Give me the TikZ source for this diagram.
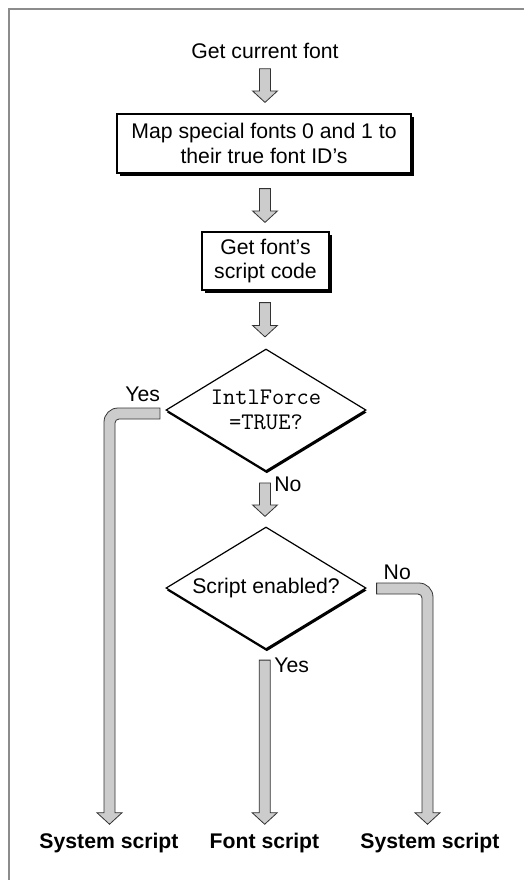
\documentclass[tikz,border=0pt]{standalone}
\usepackage{fontspec}
\setmainfont{Liberation Sans}
\usetikzlibrary{calc,shapes.geometric,shadows}
\newcommand\fsz{\fontsize{10.6}{12.2}\selectfont}
\newcommand\ttsz{\fontsize{11.9}{12.4}\selectfont\ttfamily}
% straight vertical pipe arrow: #1 top centre, #2 tip
\newcommand\vpipe[2]{\path[pipe] let \p1=#1, \p2=#2 in
  (\x1-2.75pt,\y1) -- (\x1+2.75pt,\y1) -- (\x1+2.75pt,\y2+5.75pt) -- (\x1+6.25pt,\y2+5.75pt)
  -- (\x1,\y2) -- (\x1-6.25pt,\y2+5.75pt) -- (\x1-2.75pt,\y2+5.75pt) -- cycle;}
% bent pipe going left then down: #1 start (centre of horizontal end), #2 tip
\newcommand\lpipe[2]{\path[pipe] let \p1=#1, \p2=#2 in
  (\x1,\y1+2.75pt) -- (\x2+4.25pt,\y1+2.75pt)
  .. controls (\x2+0.386pt,\y1+2.75pt) and (\x2-2.75pt,\y1-0.386pt) .. (\x2-2.75pt,\y1-4.25pt)
  -- (\x2-2.75pt,\y2+5.75pt) -- (\x2-6.25pt,\y2+5.75pt) -- (\x2,\y2) -- (\x2+6.25pt,\y2+5.75pt)
  -- (\x2+2.75pt,\y2+5.75pt) -- (\x2+2.75pt,\y1-4.75pt)
  .. controls (\x2+2.75pt,\y1-3.646pt) and (\x2+3.646pt,\y1-2.75pt) .. (\x2+4.75pt,\y1-2.75pt)
  -- (\x1,\y1-2.75pt) -- cycle;}
% bent pipe going right then down
\newcommand\rpipe[2]{\path[pipe] let \p1=#1, \p2=#2 in
  (\x1,\y1+2.75pt) -- (\x2-4.25pt,\y1+2.75pt)
  .. controls (\x2-0.386pt,\y1+2.75pt) and (\x2+2.75pt,\y1-0.386pt) .. (\x2+2.75pt,\y1-4.25pt)
  -- (\x2+2.75pt,\y2+5.75pt) -- (\x2+6.25pt,\y2+5.75pt) -- (\x2,\y2) -- (\x2-6.25pt,\y2+5.75pt)
  -- (\x2-2.75pt,\y2+5.75pt) -- (\x2-2.75pt,\y1-4.75pt)
  .. controls (\x2-2.75pt,\y1-3.646pt) and (\x2-3.646pt,\y1-2.75pt) .. (\x2-4.75pt,\y1-2.75pt)
  -- (\x1,\y1-2.75pt) -- cycle;}
\tikzset{
  pipe/.style={fill=black!20, draw=black!80, line width=0.4pt},
  box/.style={rectangle, draw, fill=white, line width=0.6pt, align=center, inner sep=0pt,
    font=\fsz, general shadow={fill=black, shadow xshift=1.4pt, shadow yshift=-1.4pt}},
  dec/.style={diamond, draw, fill=white, line width=0.6pt, align=center, inner sep=0pt,
    aspect=1.64, minimum width=100pt, minimum height=61pt, font=\fsz,
    general shadow={fill=black, shadow xshift=0.4pt, shadow yshift=-1.2pt}},
  txt/.style={inner sep=0pt, font=\fsz},
  lab/.style={inner sep=0pt, font=\fsz\bfseries, anchor=base},
  frame/.style={draw=black!45, line width=0.8pt}
}
\begin{document}
\begin{tikzpicture}[x=0.5pt, y=-0.5pt]
\useasboundingbox (0,0) rectangle (524,880);
\draw[frame] (9,880) -- (9,9) -- (524,9);

\node[txt] (t0) at (265,51) {Get current font};
\node[box, minimum width=147pt, minimum height=29.5pt] (b1) at (264,143.5)
  {Map special fonts 0 and 1 to\\their true font ID’s};
\node[box, minimum width=63.5pt, minimum height=29pt] (b2) at (265.5,261)
  {Get font’s\\script code};
\node[dec, font=\ttsz] (d1) at (266,410) {IntlForce\\=TRUE?};
\node[dec] (d2) at (266,588) {Script enabled?};

\node[lab] (l1) at (109,848) {System script};
\node[lab] (l2) at (264.5,848) {Font script};
\node[lab] (l3) at (430,848) {System script};

\node[txt, anchor=base east] (y1) at ($(d1.west)+(-5,-9)$) {Yes};
\node[txt, anchor=base west] (n1) at ($(d1.south)+(8,20)$) {No};
\node[txt, anchor=base west] (n2) at ($(d2.east)+(16.7,-9)$) {No};
\node[txt, anchor=base west] (y2) at ($(d2.south)+(8,22.7)$) {Yes};

\vpipe{($(t0.south)+(0,9.5)$)}{($(b1.north)+(0,-11)$)}
\vpipe{($(b1.south)+(1,15)$)}{($(b2.north)+(0,-9)$)}
\vpipe{($(b2.south)+(-0.5,12)$)}{($(d1.north)+(0,-11.5)$)}
\vpipe{($(d1.south)+(-1,11.3)$)}{($(d2.north)+(0,-10)$)}
\vpipe{($(d2.south)+(-1.3,10.5)$)}{($(l2.north)+(0,-8)$)}
\lpipe{($(d1.west)+(-5.5,3.5)$)}{($(l1.north)+(0.5,-8)$)}
\rpipe{($(d2.east)+(10,0.5)$)}{($(l3.north)+(-2.5,-8)$)}
\end{tikzpicture}
\end{document}
